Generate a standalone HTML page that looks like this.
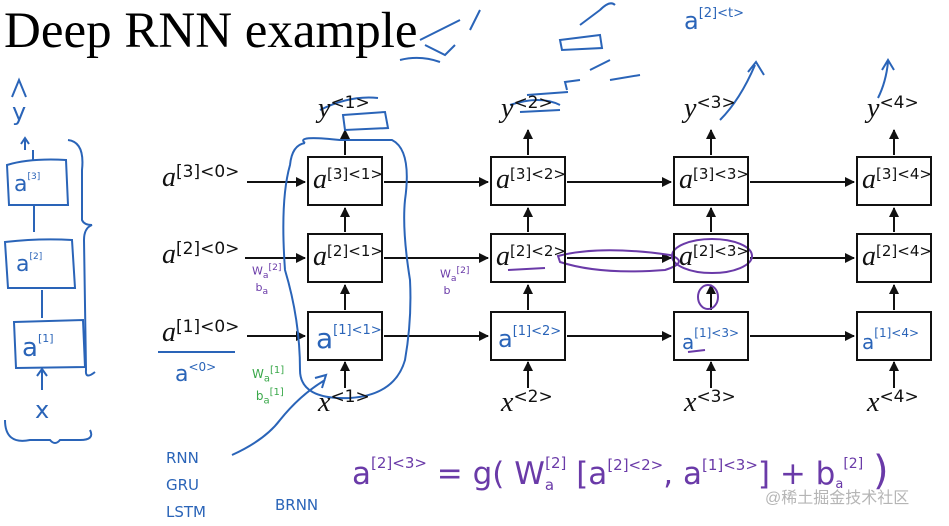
<!DOCTYPE html>
<html><head><style>
body{margin:0;width:949px;height:520px;background:#fff;overflow:hidden;position:relative;font-family:"Liberation Serif",serif}
.t{position:absolute;white-space:nowrap}
.b{position:absolute;border:2px solid #111;width:72px;height:46px;box-sizing:content-box}
.lab{font-family:"DejaVu Sans","Liberation Sans",sans-serif;font-size:21px;color:#111}
.lab i{font-family:"Liberation Serif",serif;font-size:28px}
.lab sup{font-size:15px;vertical-align:9px}
.big sup{font-size:17px}
.hb{color:#2a64b8;font-family:"DejaVu Sans",sans-serif}
.hp{color:#6a3aa8;font-family:"DejaVu Sans",sans-serif}
</style></head><body>
<div class="t" style="left:4px;top:2px;font-size:51px;color:#000">Deep RNN example</div>

<svg width="949" height="520" style="position:absolute;left:0;top:0">
<defs><marker id="a" markerWidth="10" markerHeight="10" refX="9" refY="5" orient="auto" markerUnits="userSpaceOnUse"><path d="M0,0 L10,5 L0,10 z" fill="#111"/></marker></defs>
<g stroke="#111" stroke-width="2" marker-end="url(#a)">
<line x1="247" y1="182" x2="305" y2="182"/><line x1="245" y1="258" x2="305" y2="258"/><line x1="247" y1="336" x2="305" y2="336"/>
<line x1="384" y1="182" x2="488" y2="182"/><line x1="567" y1="182" x2="671" y2="182"/><line x1="750" y1="182" x2="854" y2="182"/>
<line x1="384" y1="258" x2="488" y2="258"/><line x1="567" y1="258" x2="671" y2="258"/><line x1="750" y1="258" x2="854" y2="258"/>
<line x1="384" y1="336" x2="488" y2="336"/><line x1="567" y1="336" x2="671" y2="336"/><line x1="750" y1="336" x2="854" y2="336"/>
<line x1="345" y1="388" x2="345" y2="362"/><line x1="528" y1="388" x2="528" y2="362"/><line x1="711" y1="388" x2="711" y2="362"/><line x1="894" y1="388" x2="894" y2="362"/>
<line x1="345" y1="310" x2="345" y2="285"/><line x1="528" y1="310" x2="528" y2="285"/><line x1="711" y1="310" x2="711" y2="285"/><line x1="894" y1="310" x2="894" y2="285"/>
<line x1="345" y1="232" x2="345" y2="208"/><line x1="528" y1="232" x2="528" y2="208"/><line x1="711" y1="232" x2="711" y2="208"/><line x1="894" y1="232" x2="894" y2="208"/>
<line x1="345" y1="155" x2="345" y2="130"/><line x1="528" y1="155" x2="528" y2="130"/><line x1="711" y1="155" x2="711" y2="130"/><line x1="894" y1="155" x2="894" y2="130"/>
</g>
<g fill="none" stroke="#2a64b8" stroke-width="2">
<path d="M7,165 Q30,158 66,160 L68,205 L9,205 Z"/><path d="M5,242 Q40,238 72,240 L75,288 L8,288 Z"/><path d="M14,322 L83,320 L85,367 L16,368 Z"/>
<path d="M12,97 L19,80 L26,97 M25,150 L25,140 M21,144 L25,138 L29,144 M33,160 L33,150 M34,232 L34,205 M42,318 L42,290 M42,390 L42,370 M37,376 L42,369 L47,376"/>
<path d="M68,140 Q85,142 82,170 L82,220 Q84,225 92,225 Q84,228 84,240 L86,370 Q85,380 95,372"/>
<path d="M5,420 Q5,445 30,440 L50,440 Q55,446 60,440 L80,440 Q95,440 90,430"/>
<path d="M158,352 L235,352"/>
<path d="M305,143 Q295,135 340,140 L392,140 Q412,150 405,200 Q402,230 410,280 Q412,320 405,360 Q395,395 350,398 Q300,400 300,370 Q300,320 285,270 Q280,200 290,165 Q292,145 305,143"/>
<path d="M232,455 Q265,440 280,420 Q300,395 325,380 M315,378 L326,375 L322,388"/>
<path d="M343,115 L385,112 L388,128 L345,130 Z M320,110 Q350,95 378,98"/>
<path d="M527,95 L568,92 M510,105 Q540,95 560,105 M567,90 L565,82 L580,80 M520,112 L560,110"/>
<path d="M420,40 Q440,30 460,20 M400,60 Q420,55 440,62 M425,45 L445,55 L455,45 M470,30 L480,10 M560,40 L600,35 L602,48 L562,50 Z M580,25 L600,10 M610,80 L640,75 M590,70 L610,60 M600,10 Q610,0 615,5"/>
<path d="M720,120 Q740,100 755,65 M748,72 L756,62 L764,75"/>
<path d="M878,98 Q886,82 888,62 M882,70 L888,60 L894,70"/>
</g>
<g fill="none" stroke="#6a3aa8" stroke-width="2">
<path d="M508,270 L545,268"/><path d="M558,256 Q600,245 670,255 Q690,262 665,270 Q600,275 560,262 Z"/>
<ellipse cx="712" cy="256" rx="40" ry="17"/><ellipse cx="708" cy="297" rx="10" ry="12"/><path d="M688,352 L705,350"/>
</g>
</svg>

<div class="b" style="left:307px;top:156px"></div><div class="b" style="left:490px;top:156px"></div><div class="b" style="left:673px;top:156px"></div><div class="b" style="left:856px;top:156px"></div>
<div class="b" style="left:307px;top:233px"></div><div class="b" style="left:490px;top:233px"></div><div class="b" style="left:673px;top:233px"></div><div class="b" style="left:856px;top:233px"></div>
<div class="b" style="left:307px;top:311px"></div><div class="b" style="left:490px;top:311px"></div><div class="b" style="left:673px;top:311px"></div><div class="b" style="left:856px;top:311px"></div>

<div class="t lab big" style="left:162px;top:162px"><i>a</i><sup>[3]&lt;0&gt;</sup></div>
<div class="t lab big" style="left:162px;top:239px"><i>a</i><sup>[2]&lt;0&gt;</sup></div>
<div class="t lab big" style="left:162px;top:317px"><i>a</i><sup>[1]&lt;0&gt;</sup></div>
<div class="t lab" style="left:313px;top:164px"><i>a</i><sup>[3]&lt;1&gt;</sup></div>
<div class="t lab" style="left:496px;top:164px"><i>a</i><sup>[3]&lt;2&gt;</sup></div>
<div class="t lab" style="left:679px;top:164px"><i>a</i><sup>[3]&lt;3&gt;</sup></div>
<div class="t lab" style="left:862px;top:164px"><i>a</i><sup>[3]&lt;4&gt;</sup></div>
<div class="t lab" style="left:313px;top:241px"><i>a</i><sup>[2]&lt;1&gt;</sup></div>
<div class="t lab" style="left:496px;top:241px"><i>a</i><sup>[2]&lt;2&gt;</sup></div>
<div class="t lab" style="left:679px;top:241px"><i>a</i><sup>[2]&lt;3&gt;</sup></div>
<div class="t lab" style="left:862px;top:241px"><i>a</i><sup>[2]&lt;4&gt;</sup></div>
<div class="t lab big" style="left:318px;top:93px"><i>y</i><sup>&lt;1&gt;</sup></div>
<div class="t lab big" style="left:501px;top:93px"><i>y</i><sup>&lt;2&gt;</sup></div>
<div class="t lab big" style="left:684px;top:93px"><i>y</i><sup>&lt;3&gt;</sup></div>
<div class="t lab big" style="left:867px;top:93px"><i>y</i><sup>&lt;4&gt;</sup></div>
<div class="t lab big" style="left:318px;top:387px"><i>x</i><sup>&lt;1&gt;</sup></div>
<div class="t lab big" style="left:501px;top:387px"><i>x</i><sup>&lt;2&gt;</sup></div>
<div class="t lab big" style="left:684px;top:387px"><i>x</i><sup>&lt;3&gt;</sup></div>
<div class="t lab big" style="left:867px;top:387px"><i>x</i><sup>&lt;4&gt;</sup></div>

<div class="t hb" style="left:316px;top:322px;font-size:28px">a<span style="font-size:13px;vertical-align:14px">[1]&lt;1&gt;</span></div>
<div class="t hb" style="left:498px;top:324px;font-size:24px">a<span style="font-size:13px;vertical-align:12px">[1]&lt;2&gt;</span></div>
<div class="t hb" style="left:682px;top:326px;font-size:20px">a<span style="font-size:12px;vertical-align:12px">[1]&lt;3&gt;</span></div>
<div class="t hb" style="left:862px;top:326px;font-size:20px">a<span style="font-size:12px;vertical-align:12px">[1]&lt;4&gt;</span></div>
<div class="t hb" style="left:175px;top:360px;font-size:22px">a<span style="font-size:12px;vertical-align:10px">&lt;0&gt;</span></div>
<div class="t hb" style="left:684px;top:6px;font-size:24px">a<span style="font-size:13px;vertical-align:12px">[2]&lt;t&gt;</span></div>
<div class="t hb" style="left:14px;top:172px;font-size:22px">a<span style="font-size:9px;vertical-align:12px">[3]</span></div>
<div class="t hb" style="left:16px;top:252px;font-size:22px">a<span style="font-size:9px;vertical-align:12px">[2]</span></div>
<div class="t hb" style="left:22px;top:332px;font-size:26px">a<span style="font-size:11px;vertical-align:14px">[1]</span></div>
<div class="t hb" style="left:35px;top:396px;font-size:24px">x</div>
<div class="t hb" style="left:12px;top:98px;font-size:24px">y</div>
<div class="t hb" style="left:166px;top:445px;font-size:15px;line-height:27px">RNN<br>GRU<br>LSTM</div>
<div class="t hb" style="left:275px;top:496px;font-size:15px">BRNN</div>
<div class="t" style="left:252px;top:262px;font-size:11px;color:#6a3aa8;font-family:'DejaVu Sans',sans-serif">W<sub>a</sub><sup>[2]</sup><br>&nbsp;b<sub>a</sub></div>
<div class="t" style="left:440px;top:265px;font-size:11px;color:#6a3aa8;font-family:'DejaVu Sans',sans-serif">W<sub>a</sub><sup>[2]</sup><br>&nbsp;b</div>
<div class="t" style="left:252px;top:364px;font-size:12px;color:#3aa84a;font-family:'DejaVu Sans',sans-serif;line-height:14px">W<sub>a</sub><sup>[1]</sup><br>&nbsp;b<sub>a</sub><sup>[1]</sup></div>
<div class="t hp" style="left:352px;top:443px;font-size:31px;line-height:40px">a<span style="font-size:15px;vertical-align:16px">[2]&lt;3&gt;</span> = g( W<span style="font-size:15px;vertical-align:-6px">a</span><span style="font-size:15px;vertical-align:16px;margin-left:-9px">[2]</span> [a<span style="font-size:15px;vertical-align:14px">[2]&lt;2&gt;</span>, a<span style="font-size:15px;vertical-align:14px">[1]&lt;3&gt;</span>] + b<span style="font-size:13px;vertical-align:-4px">a</span><span style="font-size:14px;vertical-align:16px">[2]</span> <span style="font-size:40px">)</span></div>
<div class="t" style="left:765px;top:484px;font-size:16px;color:#b5b5b5;font-family:'Liberation Sans','Noto Sans CJK SC',sans-serif">@稀土掘金技术社区</div>
</body></html>
